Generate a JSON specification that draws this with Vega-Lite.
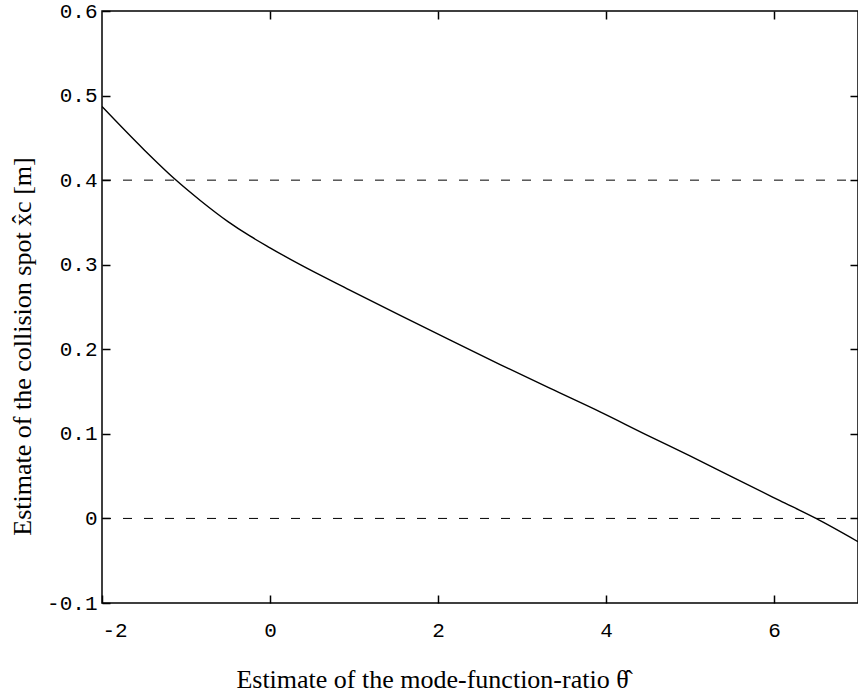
{
  "$schema": "https://vega.github.io/schema/vega-lite/v6.json",
  "width": 756,
  "height": 592,
  "autosize": "none",
  "padding": {"left": 102, "top": 11, "right": 0, "bottom": 96},
  "background": "white",
  "config": {
    "view": {"stroke": "black", "strokeWidth": 1.5},
    "axis": {
      "grid": false,
      "domain": false,
      "tickColor": "black",
      "tickWidth": 1.5,
      "tickSize": -8,
      "labelColor": "black",
      "labelFont": "Liberation Mono",
      "labelFontSize": 21,
      "titleColor": "black",
      "titleFont": "Liberation Serif",
      "titleFontSize": 26,
      "titleFontWeight": "normal"
    }
  },
  "layer": [
    {
      "data": {
        "values": [
          {"theta": -2.0, "xc": 0.487},
          {"theta": -1.5, "xc": 0.436},
          {"theta": -1.13, "xc": 0.401},
          {"theta": -0.83, "xc": 0.376},
          {"theta": -0.5, "xc": 0.351},
          {"theta": -0.24, "xc": 0.334},
          {"theta": 0.0, "xc": 0.32},
          {"theta": 0.36, "xc": 0.3},
          {"theta": 0.95, "xc": 0.27},
          {"theta": 1.55, "xc": 0.24},
          {"theta": 2.14, "xc": 0.211},
          {"theta": 2.74, "xc": 0.182},
          {"theta": 3.33, "xc": 0.154},
          {"theta": 3.93, "xc": 0.126},
          {"theta": 4.5, "xc": 0.098},
          {"theta": 5.0, "xc": 0.074},
          {"theta": 5.5, "xc": 0.049},
          {"theta": 6.07, "xc": 0.021},
          {"theta": 6.5, "xc": 0.0},
          {"theta": 7.0, "xc": -0.0275}
        ]
      },
      "mark": {"type": "line", "color": "black", "strokeWidth": 1.4, "interpolate": "monotone", "clip": true},
      "encoding": {
        "x": {
          "field": "theta",
          "type": "quantitative",
          "scale": {"domain": [-2, 7], "nice": false, "zero": false},
          "axis": {
            "orient": "bottom",
            "values": [-2, 0, 2, 4, 6],
            "labelExpr": "replace(format(datum.value, 'd'), '−', '-')",
            "labelPadding": 24,
            "title": "Estimate of the mode-function-ratio θ̂",
            "titleX": 330,
            "titleY": 84,
            "titleBaseline": "alphabetic",
            "titleAlign": "center",
            "titleAnchor": null
          }
        },
        "y": {
          "field": "xc",
          "type": "quantitative",
          "scale": {"domain": [-0.1, 0.6], "nice": false, "zero": false},
          "axis": {
            "orient": "left",
            "values": [-0.1, 0, 0.1, 0.2, 0.3, 0.4, 0.5, 0.6],
            "labelExpr": "datum.value == 0 ? '0' : replace(format(datum.value, '.1f'), '−', '-')",
            "labelPadding": 13,
            "title": "Estimate of the collision spot x̂c [m]",
            "titleX": -80,
            "titleY": 335,
            "titleAngle": -90,
            "titleBaseline": "middle",
            "titleAlign": "center"
          }
        }
      }
    },
    {
      "data": {"values": [{"level": 0.4}, {"level": 0}]},
      "mark": {"type": "rule", "color": "black", "strokeWidth": 1, "strokeDash": [9, 12]},
      "encoding": {
        "x": {
          "datum": -2,
          "type": "quantitative",
          "axis": {"orient": "top", "values": [0, 2, 4, 6], "labels": false, "title": null}
        },
        "x2": {"datum": 7},
        "y": {
          "field": "level",
          "type": "quantitative",
          "axis": {"orient": "right", "values": [0, 0.1, 0.2, 0.3, 0.4, 0.5], "labels": false, "title": null}
        }
      }
    }
  ],
  "resolve": {"axis": {"x": "independent", "y": "independent"}}
}
